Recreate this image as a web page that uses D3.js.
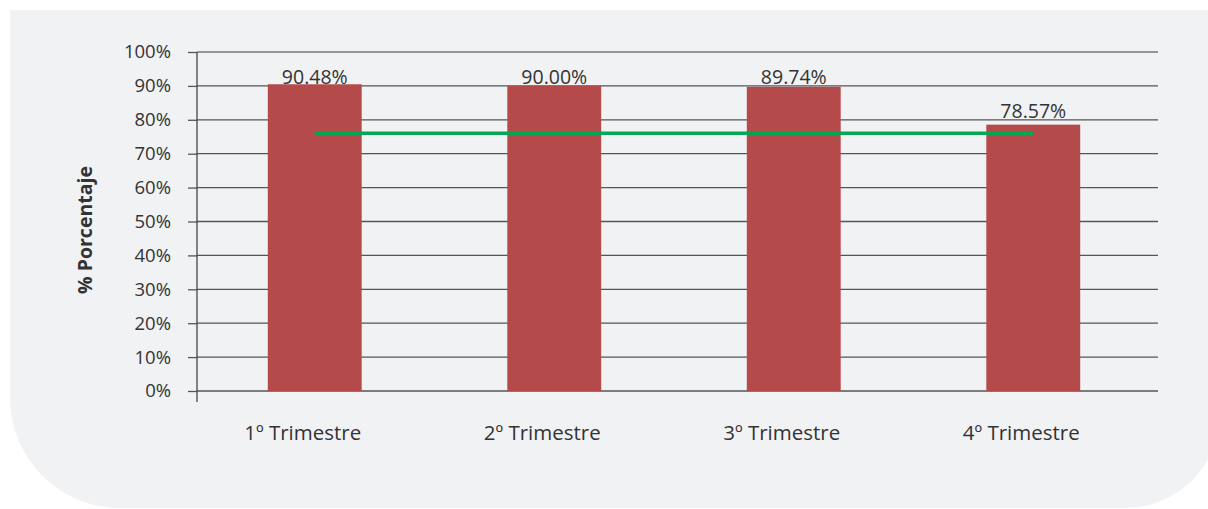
<!DOCTYPE html>
<html><head><meta charset="utf-8">
<script src="https://cdn.jsdelivr.net/npm/d3@7"></script>
<style>
html,body{margin:0;padding:0;background:#fff;}
svg{display:block;font-family:"Open Sans","Noto Sans",sans-serif;}
</style></head>
<body>
<svg id="chart" width="1208" height="509"></svg>
<script>
const categories = ["1º Trimestre","2º Trimestre","3º Trimestre","4º Trimestre"];
const values = [90.48, 90.00, 89.74, 78.57];
const target = [76, 76, 76, 76];
const yTicks = [0,10,20,30,40,50,60,70,80,90,100];

const svg = d3.select("#chart");

// panel background with rounded bottom corners
const L=10,T=10,B=508,rl=110,cxR=1125,rr=95;
svg.append("path")
  .attr("d",`M${L},${T}H${cxR+rr}V${B-rr}A${rr},${rr} 0 0 1 ${cxR},${B}H${L+rl}A${rl},${rl} 0 0 1 ${L},${B-rl}Z`)
  .attr("fill","#f1f2f4");

const y = d3.scaleLinear().domain([0,100]).range([391,52]);
const x = d3.scaleBand().domain(categories).range([195,1153]).padding(0);
const barW = x.bandwidth()*0.392;

// ticks
const yAxis = d3.axisLeft(y).tickValues(yTicks).tickFormat(d=>d+"%").tickSize(9).tickPadding(17);
const ga = svg.append("g").attr("transform","translate(197,0)").call(yAxis);
ga.select(".domain").remove();
ga.selectAll(".tick line").attr("stroke","#555").attr("stroke-width",1.3);
ga.selectAll(".tick text").attr("fill","#333").attr("font-size",18.5).attr("font-family","Open Sans, sans-serif");

// gridlines
svg.append("g").selectAll("line").data(yTicks).join("line")
  .attr("x1",197).attr("x2",1158)
  .attr("y1",d=>y(d)).attr("y2",d=>y(d))
  .attr("stroke",(d)=>d===100?"#777":"#555").attr("stroke-width",1.3);

// bars
svg.append("g").selectAll("rect").data(values).join("rect")
  .attr("x",(d,i)=>x(categories[i])+x.bandwidth()/2-barW/2)
  .attr("width",barW)
  .attr("y",d=>y(d))
  .attr("height",d=>y(0)-y(d))
  .attr("fill","#b54a4a");

// y axis line
svg.append("line").attr("x1",197).attr("x2",197).attr("y1",52).attr("y2",402)
  .attr("stroke","#444").attr("stroke-width",1.3);

// target line
const line = d3.line().x((d,i)=>x(categories[i])+x.bandwidth()/2).y(d=>y(d));
svg.append("path").datum(target).attr("d",line)
  .attr("fill","none").attr("stroke","#00a651").attr("stroke-width",3.5);

// value labels
svg.append("g").selectAll("text").data(values).join("text")
  .attr("x",(d,i)=>x(categories[i])+x.bandwidth()/2)
  .attr("y",d=>Math.max(y(d)-7, y(100)+32))
  .attr("text-anchor","middle")
  .attr("font-size",19.5).attr("fill","#333")
  .text(d=>d.toFixed(2)+"%");

// category labels
svg.append("g").selectAll("text").data(categories).join("text")
  .attr("x",d=>x(d)+x.bandwidth()/2)
  .attr("dx",-12)
  .attr("y",440)
  .attr("text-anchor","middle")
  .attr("font-size",20.5).attr("fill","#333")
  .text(d=>d);

// y axis title
svg.append("text")
  .attr("transform","translate(92,230) rotate(-90)")
  .attr("text-anchor","middle")
  .attr("font-size",19.5).attr("font-weight","bold").attr("fill","#333")
  .text("% Porcentaje");
</script>
</body></html>
